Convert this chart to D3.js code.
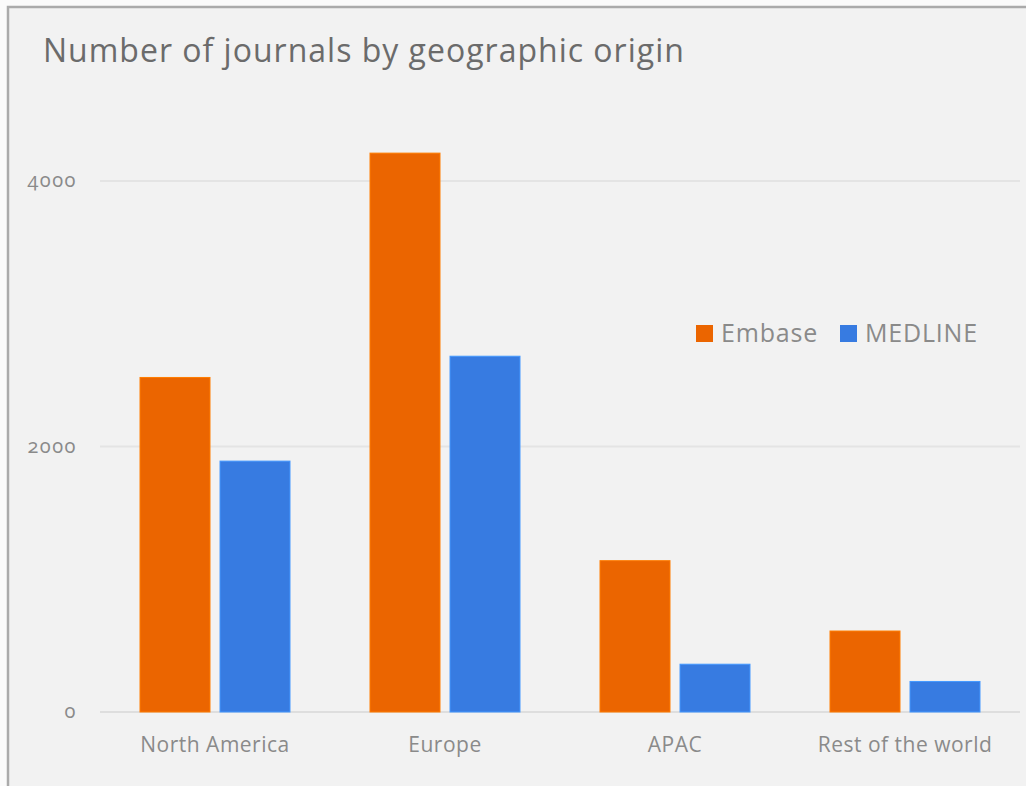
<!DOCTYPE html>
<html>
<head>
<meta charset="utf-8">
<script src="https://cdn.jsdelivr.net/npm/d3@7"></script>
<style>
  body { margin: 0; background: #fafafa; }
  svg { display: block; font-family: "Open Sans", Lato, sans-serif; }
</style>
</head>
<body>
<svg id="chart" width="1026" height="786"></svg>
<script>
const REGIONS = ["North America", "Europe", "APAC", "Rest of the world"];
const SERIES = ["Embase", "MEDLINE"];
const EMBASE = [2520, 4210, 1140, 610];
const MEDLINE = [1890, 2680, 360, 230];
const Y_TICKS = [0, 2000, 4000];
const COLORS = ["#eb6500", "#377be1"];

const data = REGIONS.map((region, i) => ({ region, values: [EMBASE[i], MEDLINE[i]] }));

const svg = d3.select("#chart");

// card background + border (top and left only, like the original)
svg.append("rect")
  .attr("x", 8).attr("y", 7).attr("width", 1018).attr("height", 779)
  .attr("fill", "#f2f2f2");
svg.append("path")
  .attr("d", "M8,786 V7 H1026")
  .attr("fill", "none").attr("stroke", "#aaaaaa").attr("stroke-width", 2.5);

svg.append("text")
  .attr("x", 43).attr("y", 62)
  .attr("font-size", 32).attr("fill", "#6b6b6b")
  .attr("letter-spacing", 1)
  .text("Number of journals by geographic origin");

const PLOT_LEFT = 100, PLOT_RIGHT = 1020, PLOT_BOTTOM = 712;

const X_SCALE = d3.scaleBand().domain(REGIONS).range([PLOT_LEFT, PLOT_RIGHT])
  .paddingInner(80 / 230).paddingOuter(40 / 230);
const SUB_SCALE = d3.scaleBand().domain(SERIES).range([0, X_SCALE.bandwidth()])
  .paddingInner(10 / 80).paddingOuter(0);
const Y_SCALE = d3.scaleLinear().domain([0, 4000]).range([PLOT_BOTTOM, 181]);

// gridlines
svg.append("g")
  .selectAll("line")
  .data(Y_TICKS)
  .enter()
  .append("line")
  .attr("x1", PLOT_LEFT).attr("x2", PLOT_RIGHT)
  .attr("y1", d => Y_SCALE(d)).attr("y2", d => Y_SCALE(d))
  .attr("stroke", d => d === 0 ? "#dedede" : "#e4e4e4")
  .attr("stroke-width", 2);

// y labels
svg.append("g")
  .selectAll("text")
  .data(Y_TICKS)
  .enter()
  .append("text")
  .attr("x", 77)
  .attr("y", d => Y_SCALE(d) + 6)
  .attr("text-anchor", "end")
  .attr("font-size", 20)
  .attr("letter-spacing", 1.5)
  .attr("fill", "#8a8a8a")
  .style("font-variant-numeric", "oldstyle-nums")
  .text(d => d);

// bars
const groups = svg.append("g")
  .selectAll("g")
  .data(data)
  .enter()
  .append("g")
  .attr("transform", d => `translate(${X_SCALE(d.region)},0)`);

groups.selectAll("rect")
  .data(d => d.values.map((value, i) => ({ series: SERIES[i], value, i })))
  .enter()
  .append("rect")
  .attr("x", d => SUB_SCALE(d.series))
  .attr("y", d => Y_SCALE(d.value))
  .attr("width", SUB_SCALE.bandwidth())
  .attr("height", d => PLOT_BOTTOM - Y_SCALE(d.value))
  .attr("fill", d => COLORS[d.i])
  .attr("stroke", d => d3.color(COLORS[d.i]).brighter(0.6))
  .attr("stroke-width", 1);

// x labels
svg.append("g")
  .selectAll("text")
  .data(REGIONS)
  .enter()
  .append("text")
  .attr("x", d => X_SCALE(d) + X_SCALE.bandwidth() / 2)
  .attr("y", 752)
  .attr("text-anchor", "middle")
  .attr("font-size", 21)
  .attr("letter-spacing", 0.5)
  .attr("fill", "#8a8a8a")
  .text(d => d);

// legend
const LEGEND_X = [696, 840];
const legend = svg.append("g")
  .selectAll("g")
  .data(SERIES)
  .enter()
  .append("g")
  .attr("transform", (d, i) => `translate(${LEGEND_X[i]},325)`);
legend.append("rect")
  .attr("width", 17).attr("height", 17)
  .attr("fill", (d, i) => COLORS[i]);
legend.append("text")
  .attr("x", 25).attr("y", 17)
  .attr("font-size", 25)
  .attr("letter-spacing", 0.8)
  .attr("fill", "#8a8a8a")
  .text(d => d);
</script>
</body>
</html>
